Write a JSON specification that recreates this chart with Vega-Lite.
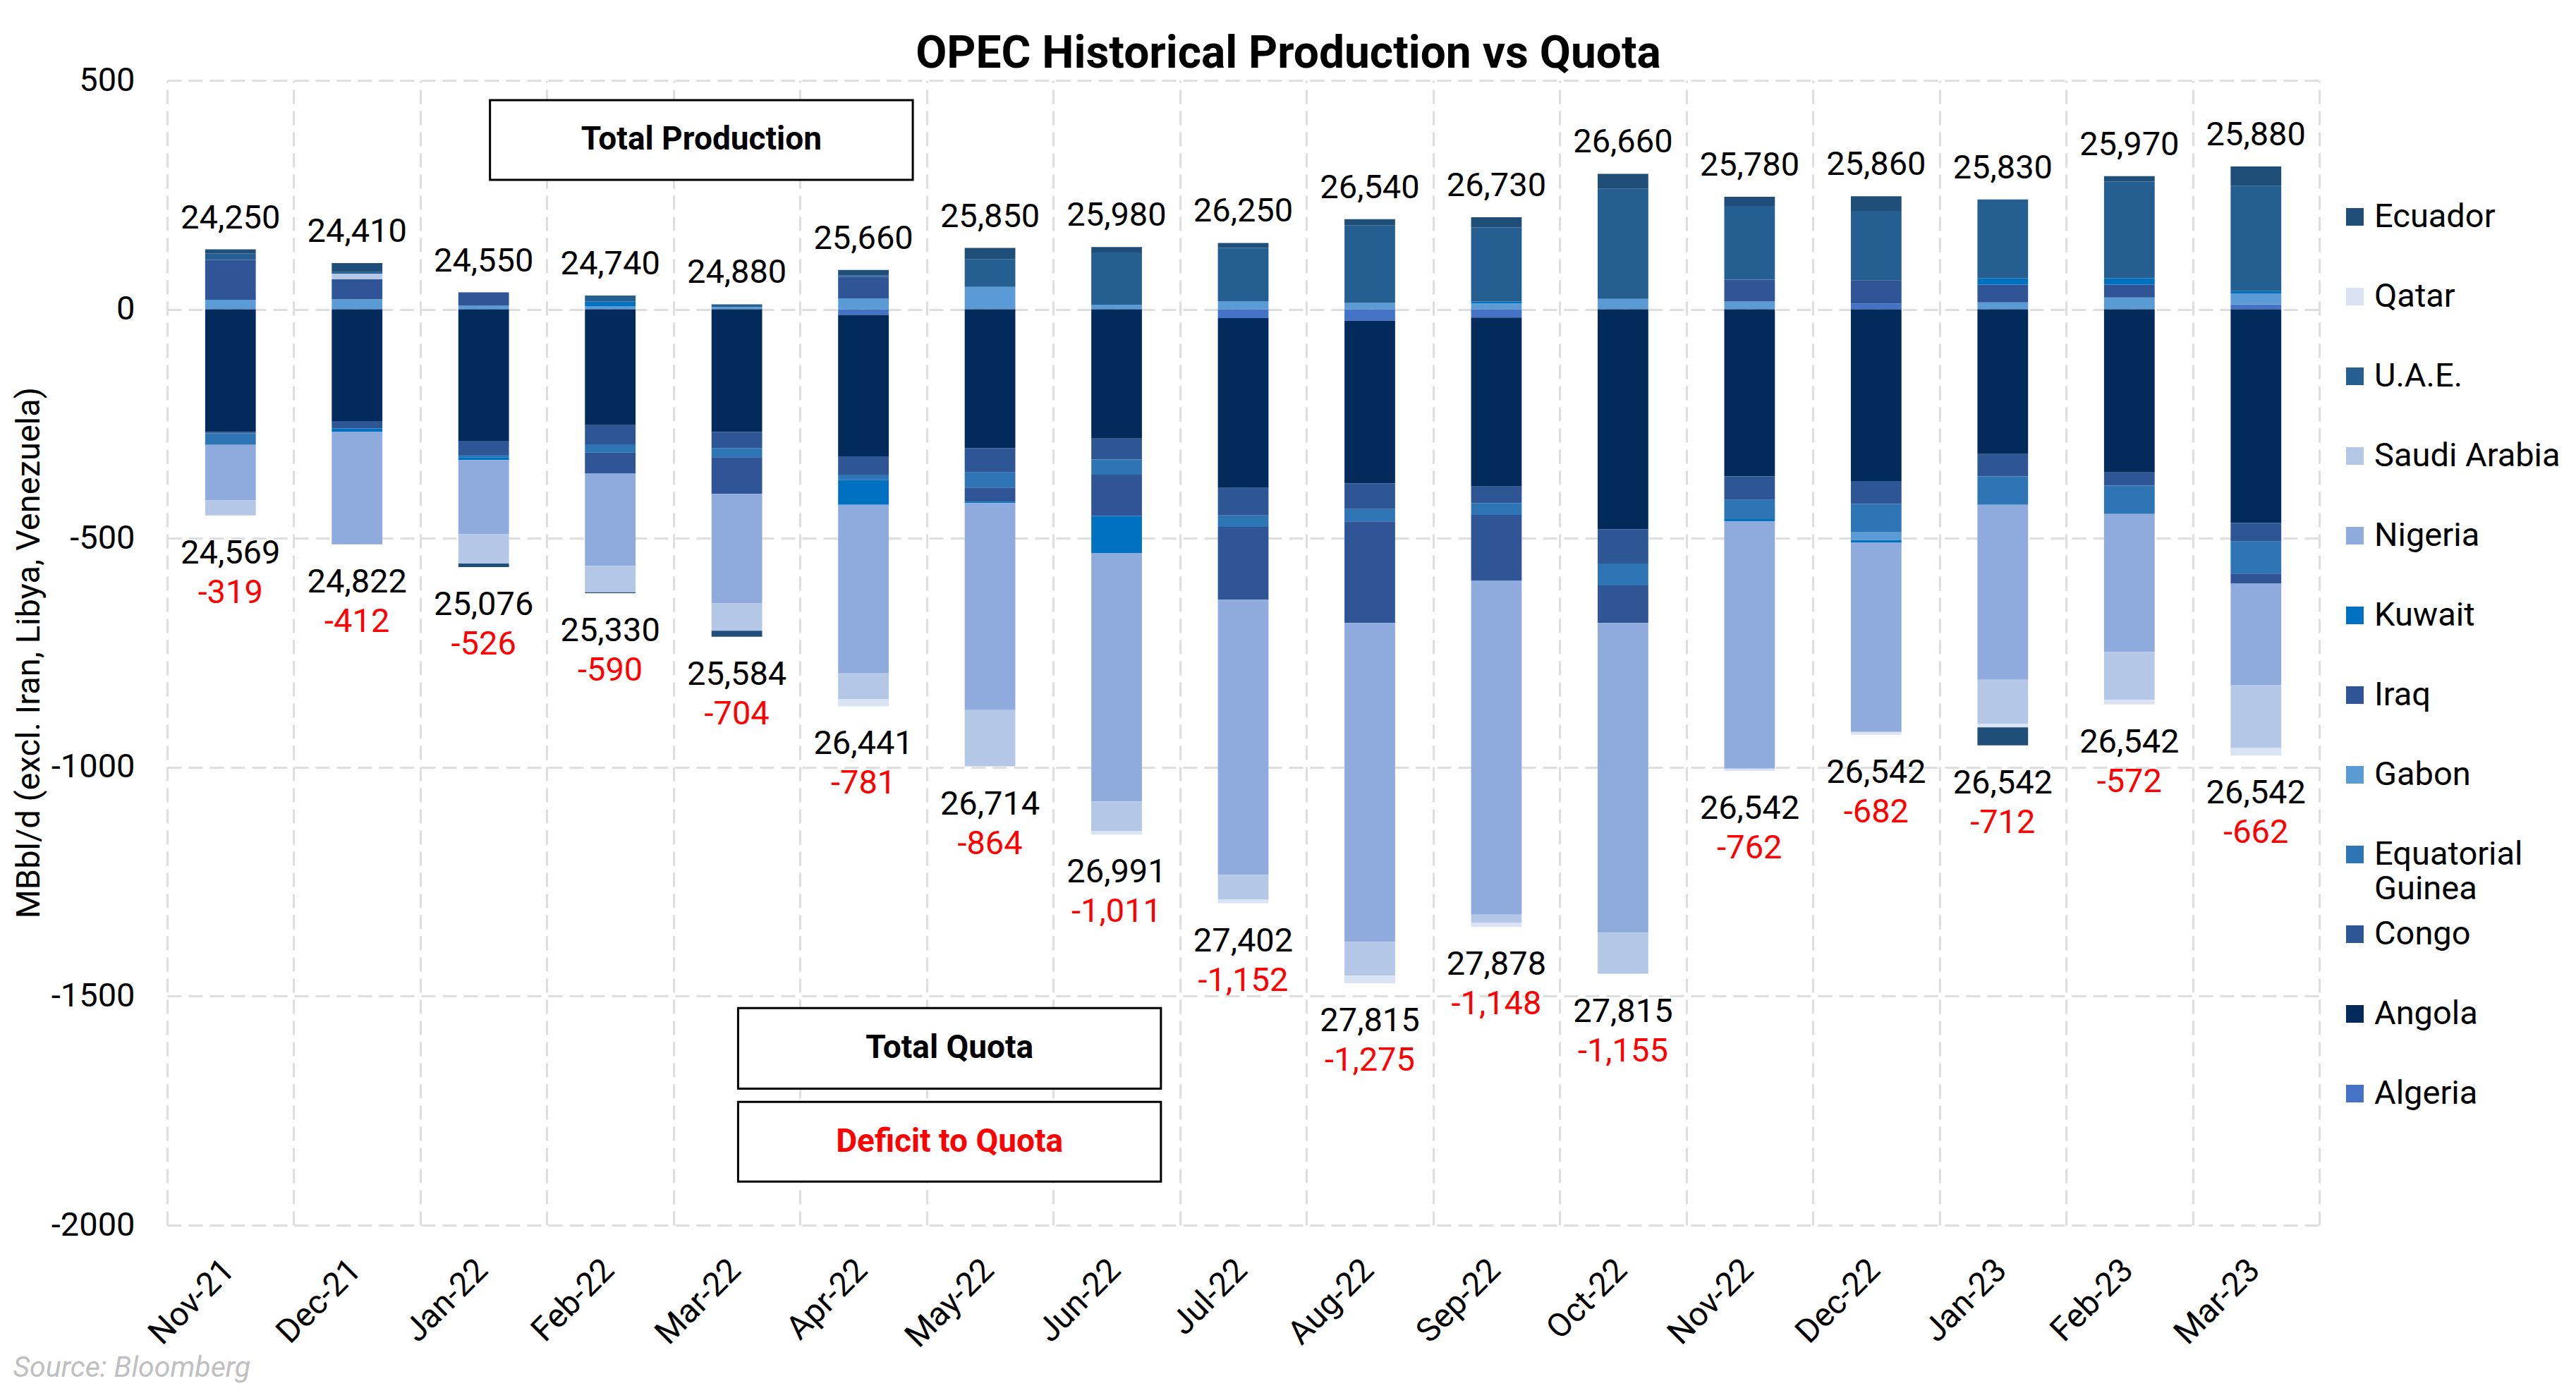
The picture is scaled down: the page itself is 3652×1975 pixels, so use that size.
{
  "$schema": "https://vega.github.io/schema/vega-lite/v6.json",
  "width": 3051,
  "height": 1623,
  "autosize": "none",
  "padding": {"left": 237, "top": 114, "right": 364, "bottom": 238},
  "background": "white",
  "config": {"font": "Roboto", "view": {"stroke": null}},
  "title": {
    "text": "OPEC Historical Production vs Quota",
    "fontSize": 64,
    "fontWeight": "bold",
    "font": "Roboto",
    "color": "black",
    "anchor": "middle",
    "frame": "group",
    "dx": 64,
    "dy": 87,
    "baseline": "alphabetic",
    "offset": 17
  },
  "datasets": {
    "countries": [
      {"month": "Nov-21", "country": "Gabon", "value": 21},
      {"month": "Nov-21", "country": "Iraq", "value": 87},
      {"month": "Nov-21", "country": "U.A.E.", "value": 14},
      {"month": "Nov-21", "country": "Ecuador", "value": 9},
      {"month": "Nov-21", "country": "Angola", "value": -268},
      {"month": "Nov-21", "country": "Congo", "value": -3},
      {"month": "Nov-21", "country": "Equatorial Guinea", "value": -25},
      {"month": "Nov-21", "country": "Nigeria", "value": -121},
      {"month": "Nov-21", "country": "Saudi Arabia", "value": -33},

      {"month": "Dec-21", "country": "Gabon", "value": 22},
      {"month": "Dec-21", "country": "Iraq", "value": 44},
      {"month": "Dec-21", "country": "Saudi Arabia", "value": 12},
      {"month": "Dec-21", "country": "U.A.E.", "value": 4},
      {"month": "Dec-21", "country": "Ecuador", "value": 19},
      {"month": "Dec-21", "country": "Angola", "value": -244},
      {"month": "Dec-21", "country": "Congo", "value": -16},
      {"month": "Dec-21", "country": "Kuwait", "value": -8},
      {"month": "Dec-21", "country": "Nigeria", "value": -245},

      {"month": "Jan-22", "country": "Gabon", "value": 8},
      {"month": "Jan-22", "country": "Iraq", "value": 29},
      {"month": "Jan-22", "country": "Angola", "value": -287},
      {"month": "Jan-22", "country": "Congo", "value": -31},
      {"month": "Jan-22", "country": "Equatorial Guinea", "value": -5},
      {"month": "Jan-22", "country": "Kuwait", "value": -6},
      {"month": "Jan-22", "country": "Nigeria", "value": -162},
      {"month": "Jan-22", "country": "Saudi Arabia", "value": -64},
      {"month": "Jan-22", "country": "Ecuador", "value": -8},

      {"month": "Feb-22", "country": "Gabon", "value": 7},
      {"month": "Feb-22", "country": "Kuwait", "value": 10},
      {"month": "Feb-22", "country": "U.A.E.", "value": 13},
      {"month": "Feb-22", "country": "Angola", "value": -253},
      {"month": "Feb-22", "country": "Congo", "value": -42},
      {"month": "Feb-22", "country": "Equatorial Guinea", "value": -18},
      {"month": "Feb-22", "country": "Iraq", "value": -45},
      {"month": "Feb-22", "country": "Nigeria", "value": -202},
      {"month": "Feb-22", "country": "Saudi Arabia", "value": -58},
      {"month": "Feb-22", "country": "Ecuador", "value": -2},

      {"month": "Mar-22", "country": "Gabon", "value": 5},
      {"month": "Mar-22", "country": "U.A.E.", "value": 6},
      {"month": "Mar-22", "country": "Angola", "value": -268},
      {"month": "Mar-22", "country": "Congo", "value": -35},
      {"month": "Mar-22", "country": "Equatorial Guinea", "value": -20},
      {"month": "Mar-22", "country": "Iraq", "value": -80},
      {"month": "Mar-22", "country": "Nigeria", "value": -239},
      {"month": "Mar-22", "country": "Saudi Arabia", "value": -60},
      {"month": "Mar-22", "country": "Ecuador", "value": -13},

      {"month": "Apr-22", "country": "Gabon", "value": 24},
      {"month": "Apr-22", "country": "Iraq", "value": 47},
      {"month": "Apr-22", "country": "U.A.E.", "value": 3},
      {"month": "Apr-22", "country": "Ecuador", "value": 12},
      {"month": "Apr-22", "country": "Algeria", "value": -12},
      {"month": "Apr-22", "country": "Angola", "value": -309},
      {"month": "Apr-22", "country": "Congo", "value": -40},
      {"month": "Apr-22", "country": "Equatorial Guinea", "value": -12},
      {"month": "Apr-22", "country": "Kuwait", "value": -54},
      {"month": "Apr-22", "country": "Nigeria", "value": -367},
      {"month": "Apr-22", "country": "Saudi Arabia", "value": -57},
      {"month": "Apr-22", "country": "Qatar", "value": -16},

      {"month": "May-22", "country": "Gabon", "value": 49},
      {"month": "May-22", "country": "U.A.E.", "value": 61},
      {"month": "May-22", "country": "Ecuador", "value": 24},
      {"month": "May-22", "country": "Angola", "value": -303},
      {"month": "May-22", "country": "Congo", "value": -53},
      {"month": "May-22", "country": "Equatorial Guinea", "value": -33},
      {"month": "May-22", "country": "Iraq", "value": -31},
      {"month": "May-22", "country": "Kuwait", "value": -3},
      {"month": "May-22", "country": "Nigeria", "value": -452},
      {"month": "May-22", "country": "Saudi Arabia", "value": -123},

      {"month": "Jun-22", "country": "Gabon", "value": 10},
      {"month": "Jun-22", "country": "U.A.E.", "value": 114},
      {"month": "Jun-22", "country": "Ecuador", "value": 12},
      {"month": "Jun-22", "country": "Angola", "value": -282},
      {"month": "Jun-22", "country": "Congo", "value": -46},
      {"month": "Jun-22", "country": "Equatorial Guinea", "value": -33},
      {"month": "Jun-22", "country": "Iraq", "value": -90},
      {"month": "Jun-22", "country": "Kuwait", "value": -82},
      {"month": "Jun-22", "country": "Nigeria", "value": -542},
      {"month": "Jun-22", "country": "Saudi Arabia", "value": -64},
      {"month": "Jun-22", "country": "Qatar", "value": -8},

      {"month": "Jul-22", "country": "Gabon", "value": 18},
      {"month": "Jul-22", "country": "U.A.E.", "value": 116},
      {"month": "Jul-22", "country": "Ecuador", "value": 11},
      {"month": "Jul-22", "country": "Algeria", "value": -19},
      {"month": "Jul-22", "country": "Angola", "value": -371},
      {"month": "Jul-22", "country": "Congo", "value": -60},
      {"month": "Jul-22", "country": "Equatorial Guinea", "value": -25},
      {"month": "Jul-22", "country": "Iraq", "value": -159},
      {"month": "Jul-22", "country": "Nigeria", "value": -601},
      {"month": "Jul-22", "country": "Saudi Arabia", "value": -54},
      {"month": "Jul-22", "country": "Qatar", "value": -8},

      {"month": "Aug-22", "country": "Gabon", "value": 14},
      {"month": "Aug-22", "country": "U.A.E.", "value": 170},
      {"month": "Aug-22", "country": "Ecuador", "value": 13},
      {"month": "Aug-22", "country": "Algeria", "value": -25},
      {"month": "Aug-22", "country": "Angola", "value": -355},
      {"month": "Aug-22", "country": "Congo", "value": -56},
      {"month": "Aug-22", "country": "Equatorial Guinea", "value": -27},
      {"month": "Aug-22", "country": "Iraq", "value": -222},
      {"month": "Aug-22", "country": "Nigeria", "value": -696},
      {"month": "Aug-22", "country": "Saudi Arabia", "value": -74},
      {"month": "Aug-22", "country": "Qatar", "value": -17},

      {"month": "Sep-22", "country": "Gabon", "value": 13},
      {"month": "Sep-22", "country": "Kuwait", "value": 4},
      {"month": "Sep-22", "country": "U.A.E.", "value": 162},
      {"month": "Sep-22", "country": "Ecuador", "value": 22},
      {"month": "Sep-22", "country": "Algeria", "value": -18},
      {"month": "Sep-22", "country": "Angola", "value": -369},
      {"month": "Sep-22", "country": "Congo", "value": -36},
      {"month": "Sep-22", "country": "Equatorial Guinea", "value": -26},
      {"month": "Sep-22", "country": "Iraq", "value": -143},
      {"month": "Sep-22", "country": "Nigeria", "value": -730},
      {"month": "Sep-22", "country": "Saudi Arabia", "value": -17},
      {"month": "Sep-22", "country": "Qatar", "value": -10},

      {"month": "Oct-22", "country": "Gabon", "value": 23},
      {"month": "Oct-22", "country": "U.A.E.", "value": 241},
      {"month": "Oct-22", "country": "Ecuador", "value": 32},
      {"month": "Oct-22", "country": "Angola", "value": -480},
      {"month": "Oct-22", "country": "Congo", "value": -75},
      {"month": "Oct-22", "country": "Equatorial Guinea", "value": -48},
      {"month": "Oct-22", "country": "Iraq", "value": -82},
      {"month": "Oct-22", "country": "Nigeria", "value": -676},
      {"month": "Oct-22", "country": "Saudi Arabia", "value": -90},

      {"month": "Nov-22", "country": "Gabon", "value": 17},
      {"month": "Nov-22", "country": "Iraq", "value": 48},
      {"month": "Nov-22", "country": "U.A.E.", "value": 161},
      {"month": "Nov-22", "country": "Ecuador", "value": 20},
      {"month": "Nov-22", "country": "Angola", "value": -365},
      {"month": "Nov-22", "country": "Congo", "value": -51},
      {"month": "Nov-22", "country": "Equatorial Guinea", "value": -42},
      {"month": "Nov-22", "country": "Kuwait", "value": -5},
      {"month": "Nov-22", "country": "Nigeria", "value": -540},
      {"month": "Nov-22", "country": "Qatar", "value": -5},

      {"month": "Dec-22", "country": "Algeria", "value": 13},
      {"month": "Dec-22", "country": "Iraq", "value": 50},
      {"month": "Dec-22", "country": "U.A.E.", "value": 152},
      {"month": "Dec-22", "country": "Ecuador", "value": 32},
      {"month": "Dec-22", "country": "Angola", "value": -375},
      {"month": "Dec-22", "country": "Congo", "value": -50},
      {"month": "Dec-22", "country": "Equatorial Guinea", "value": -61},
      {"month": "Dec-22", "country": "Gabon", "value": -18},
      {"month": "Dec-22", "country": "Kuwait", "value": -5},
      {"month": "Dec-22", "country": "Nigeria", "value": -414},
      {"month": "Dec-22", "country": "Qatar", "value": -6},

      {"month": "Jan-23", "country": "Gabon", "value": 15},
      {"month": "Jan-23", "country": "Iraq", "value": 39},
      {"month": "Jan-23", "country": "Kuwait", "value": 14},
      {"month": "Jan-23", "country": "U.A.E.", "value": 172},
      {"month": "Jan-23", "country": "Angola", "value": -316},
      {"month": "Jan-23", "country": "Congo", "value": -49},
      {"month": "Jan-23", "country": "Equatorial Guinea", "value": -62},
      {"month": "Jan-23", "country": "Nigeria", "value": -382},
      {"month": "Jan-23", "country": "Saudi Arabia", "value": -96},
      {"month": "Jan-23", "country": "Qatar", "value": -8},
      {"month": "Jan-23", "country": "Ecuador", "value": -39},

      {"month": "Feb-23", "country": "Gabon", "value": 26},
      {"month": "Feb-23", "country": "Iraq", "value": 28},
      {"month": "Feb-23", "country": "Kuwait", "value": 14},
      {"month": "Feb-23", "country": "U.A.E.", "value": 211},
      {"month": "Feb-23", "country": "Ecuador", "value": 12},
      {"month": "Feb-23", "country": "Angola", "value": -356},
      {"month": "Feb-23", "country": "Congo", "value": -29},
      {"month": "Feb-23", "country": "Equatorial Guinea", "value": -62},
      {"month": "Feb-23", "country": "Nigeria", "value": -301},
      {"month": "Feb-23", "country": "Saudi Arabia", "value": -105},
      {"month": "Feb-23", "country": "Qatar", "value": -10},

      {"month": "Mar-23", "country": "Algeria", "value": 11},
      {"month": "Mar-23", "country": "Gabon", "value": 24},
      {"month": "Mar-23", "country": "Kuwait", "value": 5},
      {"month": "Mar-23", "country": "U.A.E.", "value": 230},
      {"month": "Mar-23", "country": "Ecuador", "value": 42},
      {"month": "Mar-23", "country": "Angola", "value": -466},
      {"month": "Mar-23", "country": "Congo", "value": -41},
      {"month": "Mar-23", "country": "Equatorial Guinea", "value": -70},
      {"month": "Mar-23", "country": "Iraq", "value": -22},
      {"month": "Mar-23", "country": "Nigeria", "value": -221},
      {"month": "Mar-23", "country": "Saudi Arabia", "value": -137},
      {"month": "Mar-23", "country": "Qatar", "value": -17}
    ],
    "totals": [
      {"month": "Nov-21", "production": 24250, "quota": 24569, "deficit": -319},
      {"month": "Dec-21", "production": 24410, "quota": 24822, "deficit": -412},
      {"month": "Jan-22", "production": 24550, "quota": 25076, "deficit": -526},
      {"month": "Feb-22", "production": 24740, "quota": 25330, "deficit": -590},
      {"month": "Mar-22", "production": 24880, "quota": 25584, "deficit": -704},
      {"month": "Apr-22", "production": 25660, "quota": 26441, "deficit": -781},
      {"month": "May-22", "production": 25850, "quota": 26714, "deficit": -864},
      {"month": "Jun-22", "production": 25980, "quota": 26991, "deficit": -1011},
      {"month": "Jul-22", "production": 26250, "quota": 27402, "deficit": -1152},
      {"month": "Aug-22", "production": 26540, "quota": 27815, "deficit": -1275},
      {"month": "Sep-22", "production": 26730, "quota": 27878, "deficit": -1148},
      {"month": "Oct-22", "production": 26660, "quota": 27815, "deficit": -1155},
      {"month": "Nov-22", "production": 25780, "quota": 26542, "deficit": -762},
      {"month": "Dec-22", "production": 25860, "quota": 26542, "deficit": -682},
      {"month": "Jan-23", "production": 25830, "quota": 26542, "deficit": -712},
      {"month": "Feb-23", "production": 25970, "quota": 26542, "deficit": -572},
      {"month": "Mar-23", "production": 25880, "quota": 26542, "deficit": -662}
    ],
    "boxes": [
      {"label": "Total Production", "x1": 2.55, "x2": 5.89, "xm": 4.22, "y1": 283, "y2": 457, "ym": 370},
      {"label": "Total Quota", "x1": 4.51, "x2": 7.85, "xm": 6.18, "y1": -1702, "y2": -1526, "ym": -1614},
      {"label": "Deficit to Quota", "x1": 4.51, "x2": 7.85, "xm": 6.18, "y1": -1905, "y2": -1731, "ym": -1818}
    ]
  },
  "layer": [
    {
      "data": {"name": "boxes"},
      "layer": [
        {
          "mark": {"type": "rect", "fill": "white", "stroke": "black", "strokeWidth": 3},
          "encoding": {
            "x": {"field": "x1", "type": "quantitative",
                  "scale": {"domain": [0, 17], "nice": false, "zero": false},
                  "axis": {"orient": "top", "values": [0,1,2,3,4,5,6,7,8,9,10,11,12,13,14,15,16,17],
                           "grid": true, "gridColor": "#DEDEDE", "gridWidth": 3, "gridDash": [20, 10],
                           "labels": false, "ticks": false, "domain": false, "title": null,
                           "minExtent": 0, "maxExtent": 0}},
            "x2": {"field": "x2"},
            "y": {"field": "y1", "type": "quantitative",
                  "scale": {"domain": [-2000, 500], "nice": false},
                  "axis": {"values": [-2000, -1500, -1000, -500, 0, 500], "labelExpr": "'' + datum.value", "grid": true,
                           "gridColor": "#DEDEDE", "gridWidth": 3, "gridDash": [20, 10],
                           "ticks": false, "domain": false, "labelFontSize": 47, "labelColor": "black",
                           "labelPadding": 46, "labelFont": "Roboto",
                           "title": "MBbl/d (excl. Iran, Libya, Venezuela)",
                           "titleFontSize": 47, "titleFontWeight": "normal", "titleColor": "black",
                           "titleFont": "Roboto", "titleX": -196, "titleY": 811, "titleBaseline": "middle",
                           "titleAngle": -90}},
            "y2": {"field": "y2"}
          }
        },
        {
          "mark": {"type": "text", "fontSize": 46, "fontWeight": "bold", "font": "Roboto", "baseline": "middle", "align": "center"},
          "encoding": {
            "x": {"field": "xm", "type": "quantitative"},
            "y": {"field": "ym", "type": "quantitative"},
            "text": {"field": "label"},
            "color": {"condition": {"test": "datum.label == 'Deficit to Quota'", "value": "#FF0000"}, "value": "black"}
          }
        }
      ]
    },
    {
      "layer": [
        {
          "data": {"name": "countries"},
          "transform": [
            {"calculate": "indexof(['Algeria','Angola','Congo','Equatorial Guinea','Gabon','Iraq','Kuwait','Nigeria','Saudi Arabia','U.A.E.','Qatar','Ecuador'], datum.country)", "as": "rank"}
          ],
          "mark": {"type": "bar"},
          "encoding": {
            "x": {"field": "month", "type": "nominal",
                  "sort": ["Nov-21","Dec-21","Jan-22","Feb-22","Mar-22","Apr-22","May-22","Jun-22","Jul-22","Aug-22","Sep-22","Oct-22","Nov-22","Dec-22","Jan-23","Feb-23","Mar-23"],
                  "scale": {"paddingInner": 0.6, "paddingOuter": 0.3},
                  "axis": {"labelAngle": -45, "labelFontSize": 47, "labelColor": "black", "labelFont": "Roboto",
                           "labelPadding": 40, "labelOffset": -18, "ticks": false, "domain": false, "grid": false,
                           "title": "Source: Bloomberg", "titleFontSize": 41, "titleFontStyle": "italic",
                           "titleFontWeight": "normal", "titleColor": "#BFBFBF", "titleFont": "Roboto",
                           "titleAnchor": "start", "titleAlign": "left", "titleBaseline": "alphabetic",
                           "titleX": -219, "titleY": 214}},
            "y": {"field": "value", "type": "quantitative", "stack": "zero"},
            "order": {"field": "rank", "type": "quantitative"},
            "color": {
              "field": "country", "type": "nominal",
              "scale": {
                "domain": ["Ecuador","Qatar","U.A.E.","Saudi Arabia","Nigeria","Kuwait","Iraq","Gabon","Equatorial Guinea","Congo","Angola","Algeria"],
                "range": ["#1F4E79","#DAE3F3","#255E91","#B4C7E7","#8FAADC","#0070C0","#2F5597","#5B9BD5","#2E75B6","#2E5594","#022B5B","#4472C4"]
              },
              "legend": {
                "title": null, "orient": "none", "legendX": 3078, "legendY": 170, "padding": 0,
                "symbolType": "square", "symbolSize": 625, "symbolStrokeWidth": 0,
                "labelFontSize": 47, "labelFont": "Roboto", "labelColor": "black",
                "labelOffset": 4, "labelLimit": 400, "rowPadding": 16, "gridAlign": "all",
                "labelExpr": "datum.label == 'Equatorial Guinea' ? ['Equatorial', 'Guinea'] : datum.label"
              }
            }
          }
        },
        {
          "mark": {"type": "rule", "color": "#BFBFBF", "strokeWidth": 2.5},
          "encoding": {"y": {"datum": 0}}
        },
        {
          "data": {"name": "countries"},
          "transform": [
            {"filter": "datum.value > 0"},
            {"aggregate": [{"op": "sum", "field": "value", "as": "pos"}], "groupby": ["month"]},
            {"lookup": "month", "from": {"data": {"name": "totals"}, "key": "month", "fields": ["production"]}}
          ],
          "mark": {"type": "text", "fontSize": 47, "font": "Roboto", "baseline": "alphabetic", "align": "center", "dy": -30, "color": "black"},
          "encoding": {
            "x": {"field": "month", "type": "nominal",
                  "sort": ["Nov-21","Dec-21","Jan-22","Feb-22","Mar-22","Apr-22","May-22","Jun-22","Jul-22","Aug-22","Sep-22","Oct-22","Nov-22","Dec-22","Jan-23","Feb-23","Mar-23"]},
            "y": {"field": "pos", "type": "quantitative"},
            "text": {"field": "production", "type": "quantitative", "format": ","}
          }
        },
        {
          "data": {"name": "countries"},
          "transform": [
            {"filter": "datum.value < 0"},
            {"aggregate": [{"op": "sum", "field": "value", "as": "neg"}], "groupby": ["month"]},
            {"lookup": "month", "from": {"data": {"name": "totals"}, "key": "month", "fields": ["quota", "deficit"]}},
            {"calculate": "replace(format(datum.deficit, ','), '\u2212', '-')", "as": "deficitLabel"}
          ],
          "layer": [
            {
              "mark": {"type": "text", "fontSize": 47, "font": "Roboto", "baseline": "alphabetic", "align": "center", "dy": 68, "color": "black"},
              "encoding": {
                "x": {"field": "month", "type": "nominal",
                      "sort": ["Nov-21","Dec-21","Jan-22","Feb-22","Mar-22","Apr-22","May-22","Jun-22","Jul-22","Aug-22","Sep-22","Oct-22","Nov-22","Dec-22","Jan-23","Feb-23","Mar-23"]},
                "y": {"field": "neg", "type": "quantitative"},
                "text": {"field": "quota", "type": "quantitative", "format": ","}
              }
            },
            {
              "mark": {"type": "text", "fontSize": 47, "font": "Roboto", "baseline": "alphabetic", "align": "center", "dy": 124, "color": "#FF0000"},
              "encoding": {
                "x": {"field": "month", "type": "nominal",
                      "sort": ["Nov-21","Dec-21","Jan-22","Feb-22","Mar-22","Apr-22","May-22","Jun-22","Jul-22","Aug-22","Sep-22","Oct-22","Nov-22","Dec-22","Jan-23","Feb-23","Mar-23"]},
                "y": {"field": "neg", "type": "quantitative"},
                "text": {"field": "deficitLabel", "type": "nominal"}
              }
            }
          ]
        }
      ]
    }
  ],
  "resolve": {"scale": {"x": "independent"}}
}
